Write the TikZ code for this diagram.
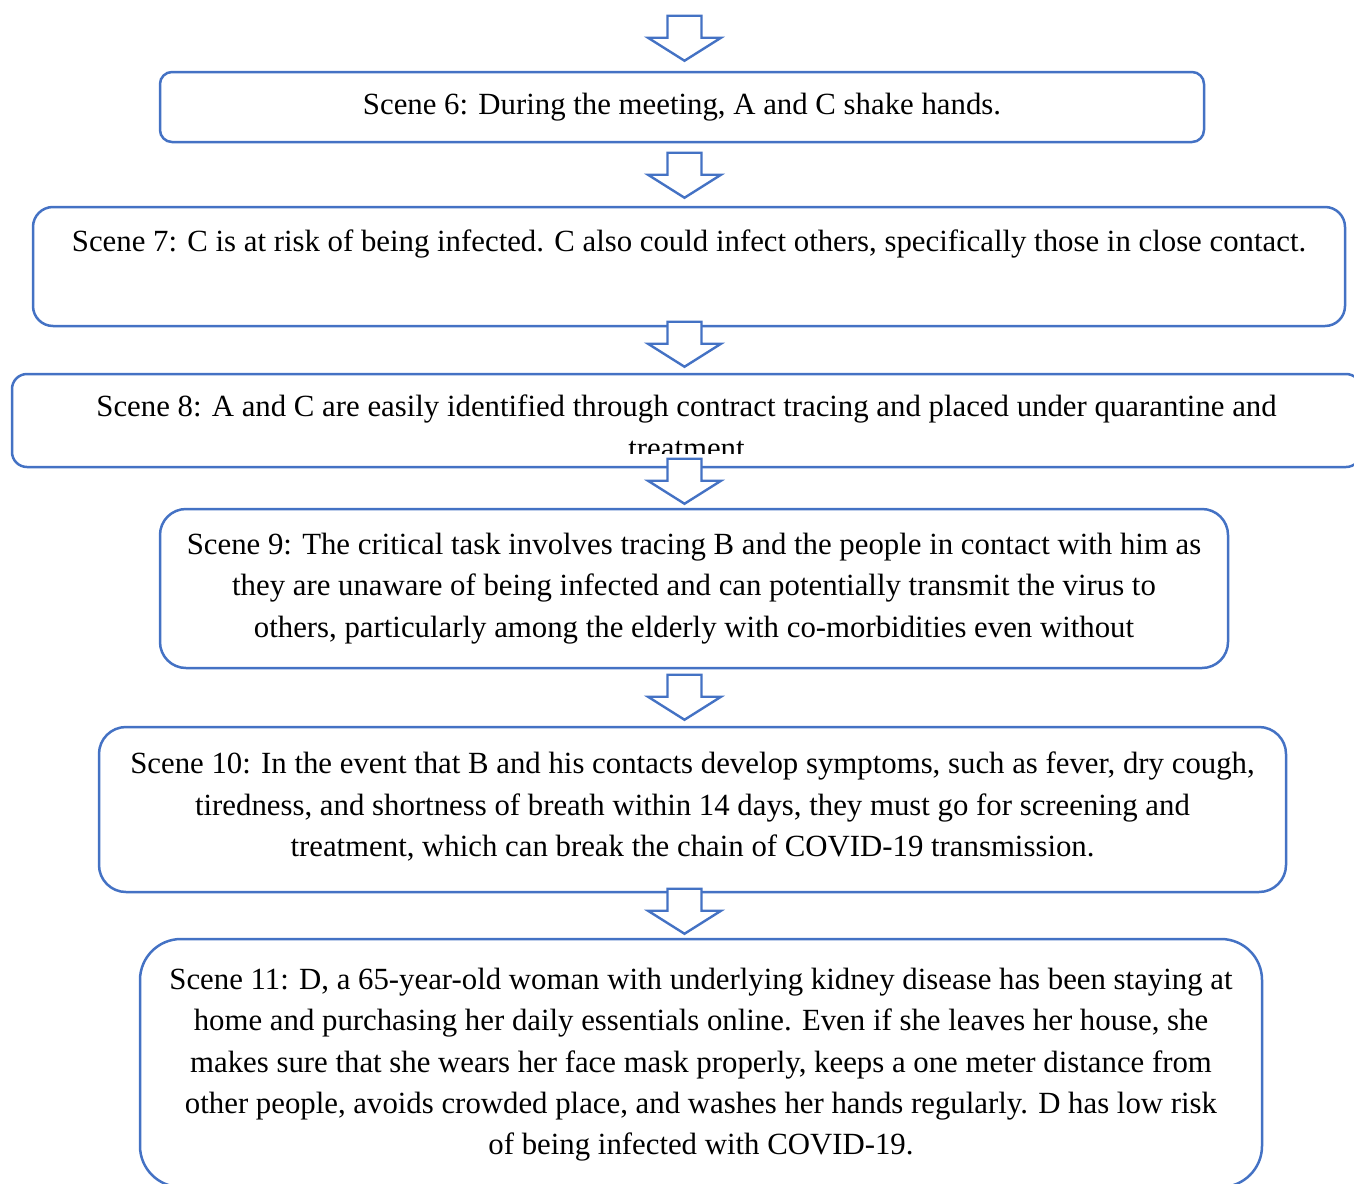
\documentclass[tikz,border=0pt]{standalone}
\usepackage{fontspec}
\setmainfont{Liberation Serif}
\usetikzlibrary{positioning,fit,calc}
\definecolor{wordblue}{HTML}{4472C4}
\tikzset{
  scenebox/.style={draw=wordblue, line width=1.25pt, inner sep=0pt},
  scenetext/.style={anchor=north, inner sep=0pt, align=center,
    font=\fontsize{15.4pt}{20.65pt}\selectfont},
  flowarrow/.pic={
    \draw[draw=wordblue, line width=1.2pt, fill=white, line join=miter]
      (0,0) -- (-36.5,-23) -- (-17,-23) -- (-17,-45) --
      (17,-45) -- (17,-23) -- (36.5,-23) -- cycle;
  }
}
\begin{document}
\begin{tikzpicture}[x=0.5pt, y=-0.5pt]
      \clip (0,0) rectangle (1354,1183);
      \coordinate (mid) at (684.5,0);

      % Scene boxes
      \node[scenebox, rounded corners=6pt, fit={(160,72) (1204,142)}] (s6) {};
      \node[scenebox, rounded corners=10pt, fit={(33,207) (1345,326)}] (s7) {};
      \node[scenebox, rounded corners=7.5pt, fit={(12,374) (1361,467)}] (s8) {};
      \node[scenebox, rounded corners=13pt, fit={(160,509) (1228,668)}] (s9) {};
      \node[scenebox, rounded corners=13.5pt, fit={(99,727) (1286,892)}] (s10) {};
      \node[scenebox, rounded corners=20.5pt, fit={(140,939) (1262,1187)}] (s11) {};

      % Texts
      \node[scenetext, below=11pt of s6.north] (t6)
        {Scene 6: During the meeting, A and C shake hands.};
      \node[scenetext, below=12pt of s7.north] (t7)
        {Scene 7: C is at risk of being infected. C also could infect others, specifically those in close contact.};
      \begin{scope}
        \clip (12,374) rectangle (1361,453);
        \node[scenetext, below=11pt of s8.north] (t8)
          {Scene 8: A and C are easily identified through contract tracing and placed under quarantine and\\
           treatment};
      \end{scope}
      \node[scenetext, below=12.5pt of s9.north] (t9)
        {Scene 9: The critical task involves tracing B and the people in contact with him as\\
         they are unaware of being infected and can potentially transmit the virus to\\
         others, particularly among the elderly with co-morbidities even without};
      \node[scenetext, below=13pt of s10.north] (t10)
        {Scene 10: In the event that B and his contacts develop symptoms, such as fever, dry cough,\\
         tiredness, and shortness of breath within 14 days, they must go for screening and\\
         treatment, which can break the chain of COVID-19 transmission.};
      \node[scenetext, below=15pt of s11.north] (t11)
        {Scene 11: D, a 65-year-old woman with underlying kidney disease has been staying at\\
         home and purchasing her daily essentials online. Even if she leaves her house, she\\
         makes sure that she wears her face mask properly, keeps a one meter distance from\\
         other people, avoids crowded place, and washes her hands regularly. D has low risk\\
         of being infected with COVID-19.};

      % Block arrows between the scenes
      \pic at ($(s6.north -| mid)+(0,-10)$) {flowarrow};
      \pic at ($(s7.north -| mid)+(0,-8)$) {flowarrow};
      \pic at ($(s8.north -| mid)+(0,-6)$) {flowarrow};
      \pic at ($(s9.north -| mid)+(0,-4)$) {flowarrow};
      \pic at ($(s10.north -| mid)+(0,-6)$) {flowarrow};
      \pic at ($(s11.north -| mid)+(0,-4)$) {flowarrow};
\end{tikzpicture}
\end{document}
